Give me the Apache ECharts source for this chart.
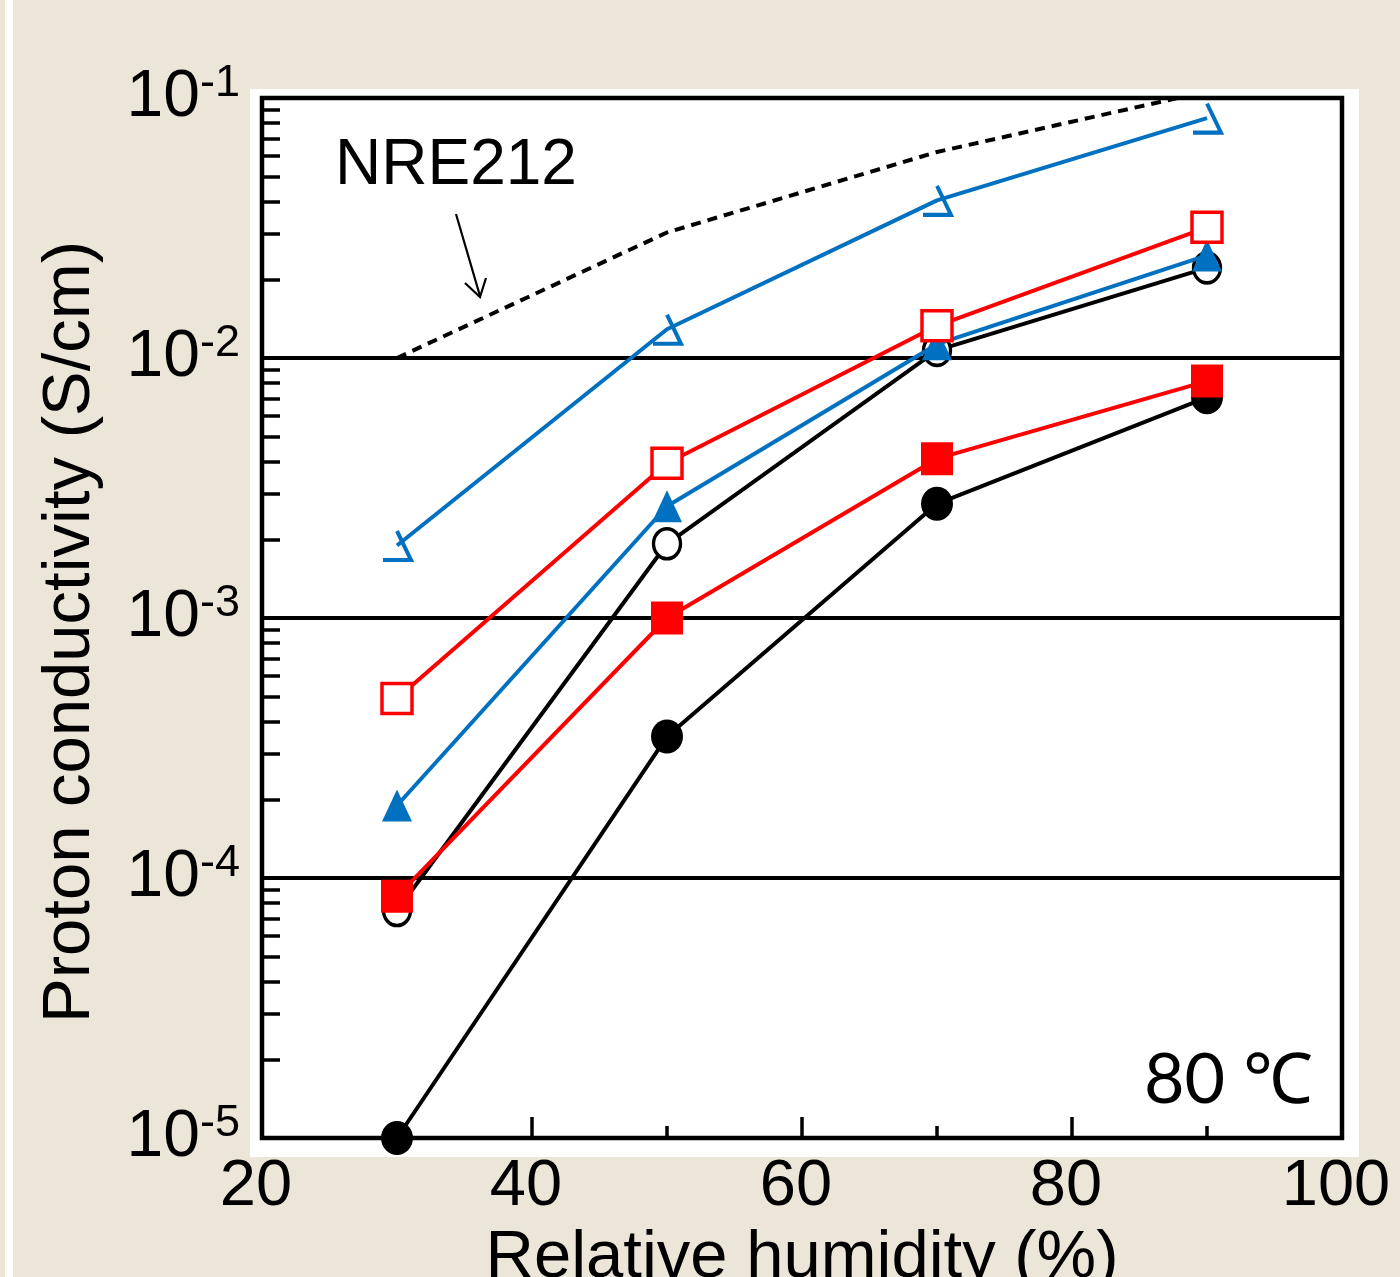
<!DOCTYPE html>
<html>
<head>
<meta charset="utf-8">
<script src="https://cdn.jsdelivr.net/npm/echarts@6/dist/echarts.min.js"></script>
<style>
html,body{margin:0;padding:0;background:#EBE6D7;overflow:hidden;}
#chart{width:1400px;height:1277px;}
</style>
</head>
<body>
<div id="chart"></div>
<script>
// ---- data ----
const humidity = [30, 50, 70, 90];
const nre212      = [0.0100, 0.0304, 0.0620, 0.106];
const blueOpen    = [1.9e-3, 0.0129, 0.0404, 0.0837];
const redOpen     = [4.9e-4, 3.94e-3, 0.0133, 0.0318];
const blueFilled  = [1.9e-4, 2.69e-3, 0.0113, 0.0248];
const blackOpen   = [7.5e-5, 1.93e-3, 0.0107, 0.0222];
const redFilled   = [8.5e-5, 1.0e-3, 4.1e-3, 8.15e-3];
const blackFilled = [1.0e-5, 3.5e-4, 2.75e-3, 7.06e-3];
const xTickLabels = [20, 40, 60, 80, 100];
const yDecades = [1e-5, 1e-4, 1e-3, 1e-2, 1e-1];
const minorMantissas = [2, 3, 4, 5, 6, 7, 8, 9];

const FONT = '"Liberation Sans", Arial, sans-serif';
const RED = '#FF0000', BLUE = '#0070C0', BLACK = '#000000';

const minorValues = [];
yDecades.slice(0, -1).forEach(d => minorMantissas.forEach(m => minorValues.push(+(d * m).toPrecision(3))));

const pair = arr => humidity.map((x, i) => [x, arr[i]]);

function mk(name, arr, opts) {
  return Object.assign({
    name: name, type: 'line', data: pair(arr),
    symbolSize: 30,
    clip: true,
    animation: false
  }, opts);
}

const chart = echarts.init(document.getElementById('chart'), null, { renderer: 'canvas' });

chart.setOption({
  backgroundColor: '#EBE6D7',
  animation: false,
  textStyle: { fontFamily: FONT },
  graphic: [
    { type: 'rect', z: -10, shape: { x: 5, y: 0, width: 8, height: 1277 }, style: { fill: '#fff' } },
    { type: 'rect', z: -10, shape: { x: 250, y: 89, width: 1109, height: 1068 }, style: { fill: '#fff' } },
    { type: 'text', z: 100, x: 335, y: 166, style: { text: 'NRE212', font: '64px ' + FONT, fill: '#000', verticalAlign: 'middle', align: 'left' } },
    { type: 'line', z: 100, shape: { x1: 456, y1: 214, x2: 480, y2: 296 }, style: { stroke: '#000', lineWidth: 2.2 } },
    { type: 'polyline', z: 100, shape: { points: [[465, 283], [480, 297], [486, 278]] }, style: { stroke: '#000', lineWidth: 2.2, fill: null } },
    { type: 'text', z: 100, x: 1313, y: 1080, style: { text: '80 \u2103', font: '70px Lato, "Open Sans", sans-serif', fill: '#000', verticalAlign: 'middle', align: 'right' } }
  ],
  grid: {
    left: 262, top: 98, right: 58, bottom: 139,
    outerBoundsMode: 'none', containLabel: false,
    show: true, backgroundColor: '#fff', borderColor: '#000', borderWidth: 4.5
  },
  xAxis: {
    type: 'value', min: 20, max: 100, interval: 20,
    name: 'Relative humidity (%)', nameLocation: 'middle', nameGap: 81,
    nameTextStyle: { fontSize: 67, color: '#000', fontFamily: FONT },
    axisLine: { show: false },
    axisTick: { show: true, inside: true, length: 21, lineStyle: { color: '#000', width: 3.5 } },
    minorTick: { show: true, splitNumber: 2, length: 12, lineStyle: { color: '#000', width: 3.5 } },
    splitLine: { show: false },
    axisLabel: {
      fontSize: 65, color: '#000', margin: 17, padding: [0, 12, 0, 0],
      customValues: xTickLabels
    }
  },
  yAxis: [
    {
      type: 'log', logBase: 10, min: 1e-5, max: 1e-1,
      name: 'Proton conductivity (S/cm)', nameLocation: 'middle', nameGap: 158,
      nameTextStyle: { fontSize: 67, color: '#000', fontFamily: FONT, padding: [0, 28, 0, 0] },
      axisLine: { show: false },
      axisTick: { show: false },
      splitLine: { show: true, lineStyle: { color: '#000', width: 4 } },
      axisLabel: {
        margin: 22,
        formatter: v => '{b|10}{s|' + Math.round(Math.log10(v)) + '}',
        rich: {
          b: { fontSize: 66, color: '#000', fontFamily: FONT },
          s: { fontSize: 45, color: '#000', fontFamily: FONT, padding: [0, 0, 28, 0] }
        }
      }
    },
    {
      type: 'log', logBase: 10, min: 1e-5, max: 1e-1, position: 'left',
      axisLine: { show: false },
      axisLabel: { show: false },
      splitLine: { show: false },
      axisTick: { show: true, inside: true, length: 18, customValues: minorValues, lineStyle: { color: '#000', width: 3.5 } }
    }
  ],
  series: [
    mk('NRE212', nre212, { z: 2, symbol: 'none', lineStyle: { width: 4, color: BLACK, type: [10, 7] }, itemStyle: { color: BLACK } }),
    mk('blue open', blueOpen, { z: 3, symbol: 'path://M14,0 L28,28 L0,28', symbolSize: [28, 29],
      lineStyle: { width: 4, color: BLUE }, itemStyle: { color: 'rgba(0,0,0,0)', borderColor: BLUE, borderWidth: 4 } }),
    mk('black filled', blackFilled, { z: 4, symbol: 'circle', symbolSize: [32, 34],
      lineStyle: { width: 4, color: BLACK }, itemStyle: { color: BLACK } }),
    mk('black open', blackOpen, { z: 5, symbol: 'circle', symbolSize: [27, 30],
      lineStyle: { width: 4, color: BLACK }, itemStyle: { color: '#fff', borderColor: BLACK, borderWidth: 3.5 } }),
    mk('blue filled', blueFilled, { z: 6, symbol: 'triangle', symbolSize: [30, 32],
      lineStyle: { width: 4, color: BLUE }, itemStyle: { color: BLUE } }),
    mk('red filled', redFilled, { z: 7, symbol: 'rect', symbolSize: [32, 33],
      lineStyle: { width: 4, color: RED }, itemStyle: { color: RED } }),
    mk('red open', redOpen, { z: 8, symbol: 'rect', symbolSize: [30, 30],
      lineStyle: { width: 4, color: RED }, itemStyle: { color: '#fff', borderColor: RED, borderWidth: 3.5 } })
  ]
});
</script>
</body>
</html>
